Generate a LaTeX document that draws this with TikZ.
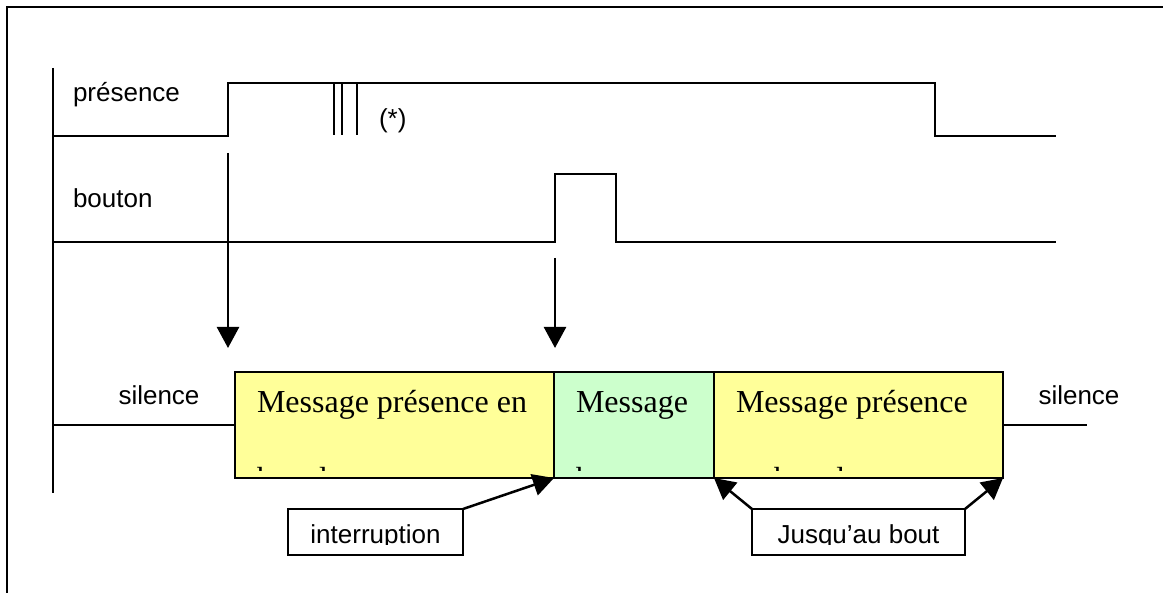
\documentclass[tikz,border=0pt]{standalone}
\usepackage{fontspec}
\setmainfont{Liberation Serif}
\newfontfamily\arialfont{Liberation Sans}
\usetikzlibrary{arrows.meta}
\definecolor{msgyellow}{RGB}{255,255,153}
\definecolor{msggreen}{RGB}{204,255,204}
% two lines of a message box, the second one cut off by the box
\newcommand{\boxtext}[3]{%
  \begin{scope}
    \clip (#1.north west) rectangle ([yshift=4pt]#1.south east);
    \node[msgfont, anchor=base west] at ([xshift=11pt, yshift=-20.5pt]#1.north west) {#2};
    \node[msgfont, anchor=base west] at ([xshift=11pt, yshift=-58.5pt]#1.north west) {#3};
  \end{scope}}
% one line of a tag box, cut at its baseline
\newcommand{\tagtext}[2]{%
  \begin{scope}
    \clip (#1.north west) rectangle ([yshift=5.5pt]#1.south east);
    \node[sigfont, anchor=base] at ([yshift=5.75pt]#1.south) {#2};
  \end{scope}}

\begin{document}
\begin{tikzpicture}[x=0.5pt, y=-0.5pt, line width=1.25pt,
  every node/.style={inner sep=0pt, outer sep=0pt},
  sigfont/.style={font=\arialfont\fontsize{13}{15}\selectfont},
  msgfont/.style={font=\fontsize{16}{19}\selectfont},
  msg/.style={draw=black, anchor=north west, minimum height=53pt},
  tag/.style={draw=black, fill=white, minimum height=23pt},
  arr/.style={-{Triangle[length=10.5pt, width=11pt]}}]
\useasboundingbox (0,0) rectangle (1163,593);
% frame and time axis
\draw (7,593) -- (7,7) -- (1163,7);
\draw (53,68) -- (53,493);
% presence signal
\node[sigfont, anchor=base west] (presence) at (73,102) {présence};
\draw (53,136) -- (228,136) -- (228,83) -- (935,83) -- (935,136) -- (1056,136);
\foreach \x in {334,342,357} \draw (\x,83) -- (\x,135);
\node[sigfont, anchor=base west] (star) at (379,128) {(*)};
% button signal
\node[sigfont, anchor=base west] (bouton) at (73,208) {bouton};
\draw (53,242) -- (555,242) -- (555,174) -- (616,174) -- (616,242) -- (1056,242);
% sound output
\node[msg, fill=msgyellow, minimum width=159.5pt] (msg1) at (235,372) {};
\node[msg, fill=msggreen, minimum width=80pt] (msg2) at (msg1.north east) {};
\node[msg, fill=msgyellow, minimum width=144.5pt] (msg3) at (msg2.north east) {};
\boxtext{msg1}{Message présence en}{boucle}
\boxtext{msg2}{Message}{bouton}
\boxtext{msg3}{Message présence}{en boucle}
\node[sigfont, anchor=base] (silence1) at (159,405) {silence};
\node[sigfont, anchor=base] (silence2) at (1079,405) {silence};
\coordinate (axis3) at (53,425);
\coordinate (end3) at (1087,425);
\draw (axis3) -- (msg1.west);
\draw (msg3.east) -- (end3);
% triggers
\coordinate (trig1) at (228,153);
\coordinate (hit1) at (228,348);
\coordinate (trig2) at (555,258);
\coordinate (hit2) at (555,348);
\draw[arr] (trig1) -- (hit1);
\draw[arr] (trig2) -- (hit2);
% notes under the messages
\node[tag, minimum width=87.5pt] (interrupt) at (375.5,532) {};
\node[tag, minimum width=106.5pt] (jusqu) at (858.5,532) {};
\tagtext{interrupt}{interruption}
\tagtext{jusqu}{Jusqu’au bout}
\draw[arr] (interrupt.north east) -- (msg1.south east);
\draw[arr] (jusqu.north west) -- (msg3.south west);
\draw[arr] (jusqu.north east) -- (msg3.south east);
\end{tikzpicture}
\end{document}
